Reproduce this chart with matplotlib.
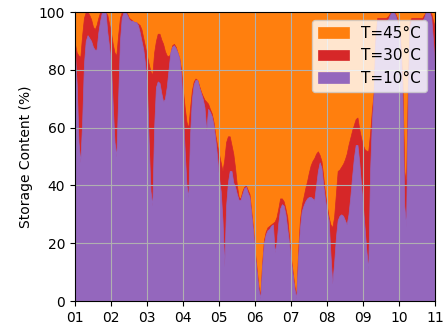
import numpy as np
import matplotlib
matplotlib.use("Agg")
import matplotlib.pyplot as plt

# time axis in months (01 .. 11), sampled every 0.05 month
months = np.arange(1, 11.001, 0.05)
month_labels = ["01", "02", "03", "04", "05", "06", "07", "08", "09", "10", "11"]

# storage content (%) per temperature
t45 = [100.0] * 201

t30 = [
    89, 86, 85, 84.5, 92, 98, 100, 100, 99, 97.5, 95, 94, 95.5, 98, 100, 100, 100, 100, 99, 96,
    93, 89, 86, 85, 92, 98, 100, 100, 100, 99.5, 98, 97.5, 97, 96.5, 96.5, 96, 95.5, 94, 91, 88,
    85, 82, 79.5, 78.3, 86, 90, 92.5, 92.5, 90.5, 89, 86.5, 85, 84.7, 85.5, 88.5, 89, 88, 86, 84, 80,
    73, 67, 62, 60, 67, 73, 76, 77, 76.5, 74.5, 72.5, 71, 69.7, 69, 68.3, 66.5, 65, 62, 57.5, 54,
    51, 48, 45, 49, 55, 57, 57, 54, 51, 46, 40, 36, 35.5, 38, 39.5, 40, 38.5, 37, 31, 25,
    17, 11, 5, 2, 13, 21, 24, 25.5, 26, 26.5, 27, 27.5, 29, 32, 35.5, 35.5, 34.5, 32, 29, 22,
    15, 10, 5, 2, 17, 28, 33, 36, 39, 41.5, 44.5, 47, 48.5, 49.5, 51, 51.8, 50.5, 48.5, 43, 37,
    33, 29, 26.5, 25.5, 29, 37, 45, 45.5, 46.5, 47.5, 49, 51, 54, 56.5, 59, 61, 63, 63.5, 59.5, 56.5,
    54, 52.5, 52, 52, 58, 66, 72, 92, 98, 98, 98, 98, 98, 98, 98.5, 99.5, 100, 100, 99.5, 98,
    96, 88, 75, 45, 40, 75, 97, 98, 98, 98, 98, 98, 98, 98, 99, 100, 100, 100, 99.5, 97,
    95,
]

t10 = [
    86, 75, 55, 48, 62, 82, 90, 92, 91, 90, 88, 87, 87, 93, 97, 100, 100, 100, 93, 88,
    82, 68, 55, 50, 70, 90, 98, 100, 100, 99, 97.5, 97, 97, 96.5, 96.5, 95.5, 93, 90, 87, 82,
    75, 55, 38, 33, 60, 74, 76, 75.5, 72, 69, 70, 74, 80, 86, 88, 88.5, 87.5, 86, 84, 78,
    66, 52, 40, 36, 58, 70, 75, 76.5, 76.5, 74, 72, 70, 67, 59, 66.5, 65.5, 64, 61, 56, 50,
    43, 38, 28, 12, 33, 41, 45, 45, 41, 39.5, 37, 35, 35, 37, 39, 39.5, 37.5, 36, 30, 24,
    16, 10, 4, 1, 12, 20, 23, 24.5, 25, 26, 26.5, 17, 20, 27, 32, 33.5, 33, 30, 25, 20,
    14, 9, 4, 1, 15, 25, 31, 33, 34.5, 35.5, 36, 36, 35.5, 35, 40, 45, 48, 46, 40, 35,
    31, 28, 16, 6, 13, 22, 28, 29.5, 30, 29.5, 28, 26.5, 30, 36, 43, 49.5, 54, 54, 48, 40,
    33, 25, 17, 11, 45, 62, 72, 90, 97, 97, 97, 97, 97, 97, 97.5, 99, 100, 100, 99, 97,
    95, 85, 70, 33, 26, 70, 95, 97, 97, 97, 97, 97, 97, 97, 98, 100, 100, 100, 98, 90,
    81,
]

fig = plt.figure(figsize=(4.46, 3.31), dpi=100)
ax = fig.add_axes([0.168, 0.0906, 0.807, 0.873])

ax.fill_between(months, 0, t45, color="#ff7f0e", lw=0.5, label="T=45°C")
ax.fill_between(months, 0, t30, color="#d62728", lw=0.5, label="T=30°C")
ax.fill_between(months, 0, t10, color="#9467bd", lw=0.5, label="T=10°C")

ax.set_xlim(1, 11)
ax.set_ylim(0, 100)
ax.set_xticks(range(1, 12))
ax.set_xticklabels(month_labels)
ax.set_yticks([0, 20, 40, 60, 80, 100])
ax.set_ylabel("Storage Content (%)")
ax.grid(True, color="#b0b0b0")
ax.legend(loc="upper right", fontsize=11)

fig.savefig("out.png", dpi=100)
